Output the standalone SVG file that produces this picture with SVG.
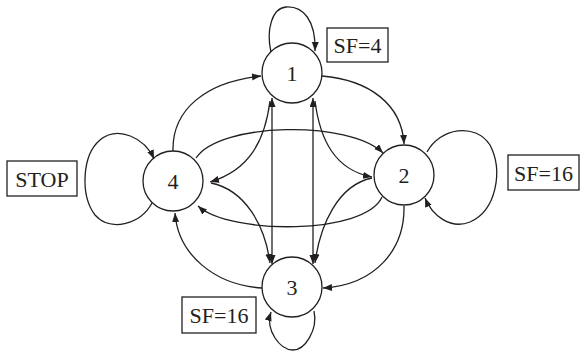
<svg xmlns="http://www.w3.org/2000/svg" width="580" height="353" viewBox="0 0 580 353">
<style>
.n{fill:#fff;stroke:#231f20;stroke-width:1.3}
.t{font-family:"Liberation Serif","Times New Roman",serif;font-size:22px;fill:#231f20;text-anchor:middle}
.b{fill:#fff;stroke:#231f20;stroke-width:1.3}
.e{fill:none;stroke:#231f20;stroke-width:1.3;marker-end:url(#ah)}
.d{fill:none;stroke:#231f20;stroke-width:1.3;marker-end:url(#ah);marker-start:url(#ah)}
</style>
<defs>
<marker id="ah" markerUnits="userSpaceOnUse" markerWidth="10" markerHeight="8" refX="9" refY="3.5" orient="auto-start-reverse">
<path d="M0,0 L9,3.5 L0,7 z" fill="#231f20"/>
</marker>
</defs>
<rect width="580" height="353" fill="#fff"/>
<g id="node1"><circle class="n" cx="292" cy="73" r="30"/><text class="t" x="292" y="81">1</text></g>
<g id="node2"><circle class="n" cx="404" cy="175" r="30"/><text class="t" x="404" y="183">2</text></g>
<g id="node3"><circle class="n" cx="292" cy="287" r="30"/><text class="t" x="292" y="295">3</text></g>
<g id="node4"><circle class="n" cx="173" cy="181" r="30"/><text class="t" x="173" y="189">4</text></g>
<g id="label-sf4"><rect class="b" x="327" y="28" width="61" height="34"/><text class="t" x="357.5" y="53">SF=4</text></g>
<g id="label-sf16-right"><rect class="b" x="508" y="155" width="71" height="35"/><text class="t" x="543.5" y="181">SF=16</text></g>
<g id="label-stop"><rect class="b" x="7" y="161" width="70" height="35"/><text class="t" x="42" y="187">STOP</text></g>
<g id="label-sf16-bottom"><rect class="b" x="182" y="297" width="74" height="36"/><text class="t" x="219" y="323">SF=16</text></g>
<g id="connectors">
<path class="e" d="M271,52 C266,30 272,8 286,7 C303,6 316,20 315,51"/>
<path class="e" d="M427,152 C440,128 475,122 490,145 C503,170 497,210 470,222 C450,230 432,215 425,198"/>
<path class="e" d="M152,203 C140,225 110,232 95,215 C80,195 82,155 100,140 C118,125 145,138 154,159"/>
<path class="e" d="M314,311 C318,330 305,350 293,350 C280,350 265,330 271,312"/>
<path class="d" d="M272,98 L272,264"/>
<path class="d" d="M313,98 L313,264"/>
<path class="e" d="M173,151 C172,110 205,82 261,76"/>
<path class="e" d="M322,76 C370,80 402,105 404,144"/>
<path class="e" d="M404,206 C405,250 375,285 323,288"/>
<path class="e" d="M262,288 C215,285 178,255 175,213"/>
<path class="e" d="M196,158 C220,122 350,120 383,153"/>
<path class="e" d="M382,197 C365,235 230,235 198,206"/>
<path class="e" d="M270,101 C265,140 250,170 210,182"/>
<path class="e" d="M211,183 C245,190 265,225 270,263"/>
<path class="e" d="M315,101 C320,140 335,170 372,177"/>
<path class="e" d="M372,178 C338,185 320,225 315,263"/>
</g>
</svg>
